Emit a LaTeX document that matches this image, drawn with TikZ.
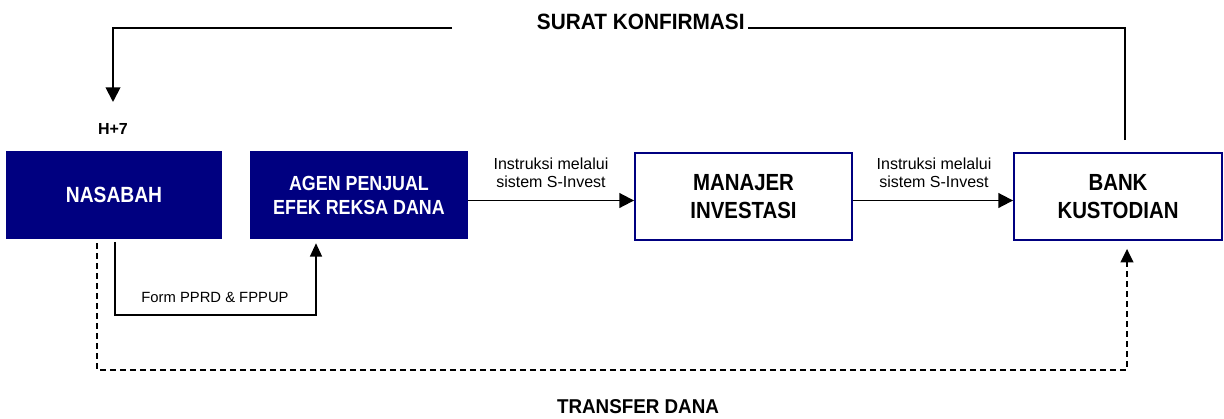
\documentclass[tikz,border=0pt]{standalone}
\usepackage{fontspec}
\setmainfont{Liberation Sans}
\newfontfamily\boxfont{Liberation Sans}[FakeStretch=0.875]
\newfontfamily\condfont{Liberation Sans}[FakeStretch=0.94]
\usetikzlibrary{arrows.meta}
\definecolor{navy}{RGB}{0,0,128}
\tikzset{
  filledbox/.style={fill=navy, text=white, align=center, inner sep=0pt,
    minimum height=66pt},
  openbox/.style={draw=navy, line width=1.4pt, fill=white, text=black, align=center,
    inner sep=0pt, minimum height=65.25pt},
  bigtxt/.style={font=\boxfont\bfseries\fontsize{16.5}{19.5}\selectfont},
  agentxt/.style={font=\boxfont\bfseries\fontsize{15.3}{18}\selectfont},
  mbtxt/.style={font=\boxfont\bfseries\fontsize{17.5}{21}\selectfont},
  title/.style={font=\condfont\bfseries\fontsize{16.6}{18}\selectfont, inner xsep=2pt, inner ysep=0pt},
  ttitle/.style={font=\condfont\bfseries\fontsize{15}{18}\selectfont, inner sep=0pt},
  lbl/.style={font=\fontsize{12}{13.5}\selectfont, align=center, inner sep=0pt},
  formlbl/.style={font=\fontsize{11.1}{12}\selectfont, inner sep=0pt},
  hlbl/.style={font=\bfseries\fontsize{12}{13}\selectfont, inner sep=0pt},
  conn/.style={line width=1.4pt},
  arr/.style={line width=1.4pt, -{Triangle[length=11pt,width=11pt]}},
  formarr/.style={line width=1.1pt, -{Triangle[length=10pt,width=9pt]}},
  dasharr/.style={line width=1.2pt, dash pattern=on 4.5pt off 3pt, -{Triangle[length=10pt,width=9.5pt]}}
}
\begin{document}
\begin{tikzpicture}[x=0.75pt,y=-0.75pt]
\useasboundingbox (0,0) rectangle (1224,418);

% boxes
\node[filledbox, bigtxt, minimum width=162pt] (nasabah) at (114,195) {NASABAH};
\node[filledbox, agentxt, minimum width=163.5pt] (agen) at (359,195) {AGEN PENJUAL\\EFEK REKSA DANA};
\node[openbox, mbtxt, minimum width=162.75pt] (manajer) at (743.5,196.5) {MANAJER\\INVESTASI};
\node[openbox, mbtxt, minimum width=156pt] (bank) at (1118,196.5) {BANK\\KUSTODIAN};

% top connector: Surat Konfirmasi
\node[title, anchor=base west] (surat) at (534,29.5) {SURAT KONFIRMASI};
\coordinate (bk) at (1125,140);
\coordinate (topy) at (0,28);
\coordinate (ls) at (452,28);
\coordinate (lt) at (113,102);
\draw[conn] (bk) |- (surat.east |- topy);
\draw[arr] (ls) -| (lt);
\node[hlbl] (h7) at (113,128.5) {H+7};

% instructions
\coordinate (my) at (0,200.5);
\draw[arr] (agen.east |- my) -- (manajer.west |- my);
\draw[arr] (manajer.east |- my) -- (bank.west |- my);
\node[lbl] (ins1) at (551,172.5) {Instruksi melalui\\sistem S-Invest};
\node[lbl] (ins2) at (934,172.5) {Instruksi melalui\\sistem S-Invest};

% form
\coordinate (fa) at (115,315);
\coordinate (fb) at (316,315);
\draw[formarr, shorten <=2pt, shorten >=3pt] (nasabah.south -| fa) -- (fa) -- (fb) -- (agen.south -| fb);
\node[formlbl] (form) at (215,297) {Form PPRD \& FPPUP};

% transfer dana
\coordinate (da) at (97,370);
\coordinate (db) at (1127,370);
\draw[dasharr, shorten <=3pt, shorten >=6pt] (nasabah.south -| da) -- (da) -- (db) -- (bank.south -| db);
\node[ttitle] (transfer) at (638,406.5) {TRANSFER DANA};
\end{tikzpicture}
\end{document}
